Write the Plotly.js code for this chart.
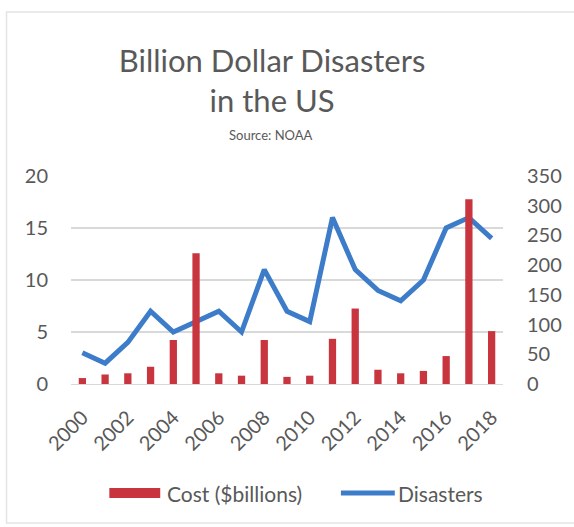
<!DOCTYPE html>
<html>
<head>
<meta charset="utf-8">
<script src="https://cdn.plot.ly/plotly-3.0.1.min.js"></script>
<style>html,body{margin:0;padding:0;background:#fff;}#chart{width:574px;height:527px;}</style>
</head>
<body>
<div id="chart"></div>
<script>
const years = [2000,2001,2002,2003,2004,2005,2006,2007,2008,2009,2010,2011,2012,2013,2014,2015,2016,2017,2018];
const costBillions = [10,16,18,29,74,220,18,14,74,12,14,76,127,24,18,22,47,311,89];
const disasters = [3,2,4,7,5,6,7,5,11,7,6,16,11,9,8,10,15,16,14];
const leftTicks = [0,5,10,15,20];
const rightTicks = [0,50,100,150,200,250,300,350];
const xTicks = [2000,2002,2004,2006,2008,2010,2012,2014,2016,2018];
const seriesNames = ['Cost ($billions)', 'Disasters'];

const textColor = '#595959';
const barColor = '#c8353f';
const lineColor = '#3d7cc9';
const fontFam = 'Lato, "Open Sans", sans-serif';

// plot box in pixels (for placing paper-referenced decorations)
const L = 70.6, R = 503.4, T = 176, B = 384;
const px = v => (v - L) / (R - L);
const py = v => (B - v) / (B - T);

const traces = [
  {
    type: 'bar', name: seriesNames[0], x: years, y: costBillions, yaxis: 'y2',
    marker: {color: barColor}, width: 0.32, showlegend: false
  },
  {
    type: 'scatter', mode: 'lines', name: seriesNames[1], x: years, y: disasters, yaxis: 'y',
    line: {color: lineColor, width: 5}, showlegend: false
  }
];

const layout = {
  width: 574, height: 527,
  paper_bgcolor: '#ffffff', plot_bgcolor: '#ffffff',
  font: {family: fontFam, color: textColor},
  margin: {l: L, r: 574 - R, t: T, b: 527 - B, pad: 0},
  showlegend: false,
  title: {
    text: 'Billion Dollar Disasters<br>in the US',
    x: 0.474, xref: 'container', xanchor: 'center',
    y: 1 - 72/527, yref: 'container', yanchor: 'top',
    font: {size: 31, color: textColor, family: fontFam}
  },
  annotations: [
    {
      text: 'Source: NOAA', xref: 'paper', yref: 'paper',
      x: px(271), y: py(135), xanchor: 'center', yanchor: 'middle',
      showarrow: false, font: {size: 13, color: textColor}
    },
    {
      text: seriesNames[0], xref: 'paper', yref: 'paper',
      x: px(165), y: py(493), xanchor: 'left', yanchor: 'middle',
      showarrow: false, font: {size: 21, color: textColor}
    },
    {
      text: seriesNames[1], xref: 'paper', yref: 'paper',
      x: px(396), y: py(493), xanchor: 'left', yanchor: 'middle',
      showarrow: false, font: {size: 21, color: textColor}
    }
  ],
  shapes: [
    {
      type: 'rect', xref: 'paper', yref: 'paper',
      x0: px(6), x1: px(580), y0: py(523), y1: py(12),
      line: {color: '#e4e4e4', width: 1.5}, fillcolor: 'rgba(0,0,0,0)', layer: 'below'
    },
    {
      type: 'rect', xref: 'paper', yref: 'paper',
      x0: px(109), x1: px(160), y0: py(498), y1: py(488),
      line: {width: 0}, fillcolor: barColor
    },
    {
      type: 'line', xref: 'paper', yref: 'paper',
      x0: px(341), x1: px(395), y0: py(493), y1: py(493),
      line: {color: lineColor, width: 5}
    }
  ],
  xaxis: {
    range: [1999.5, 2018.5], tickvals: xTicks, ticktext: xTicks.map(String),
    tickangle: -45, tickfont: {size: 20, color: textColor},
    showgrid: false, zeroline: false, showline: false, ticks: '', ticklabelstandoff: 17
  },
  yaxis: {
    range: [0, 20], tickvals: leftTicks, tickfont: {size: 20, color: textColor},
    showgrid: true, gridcolor: '#d9d9d9', gridwidth: 1.5, zeroline: true, zerolinecolor: '#d9d9d9',
    showline: false, ticks: '', ticklabelstandoff: 22
  },
  yaxis2: {
    range: [0, 350], tickvals: rightTicks, tickfont: {size: 20, color: textColor},
    overlaying: 'y', side: 'right', showgrid: false, zeroline: false, showline: false, ticks: '',
    ticklabelstandoff: 23
  }
};

Plotly.newPlot('chart', traces, layout, {displayModeBar: false, staticPlot: true});
</script>
</body>
</html>
